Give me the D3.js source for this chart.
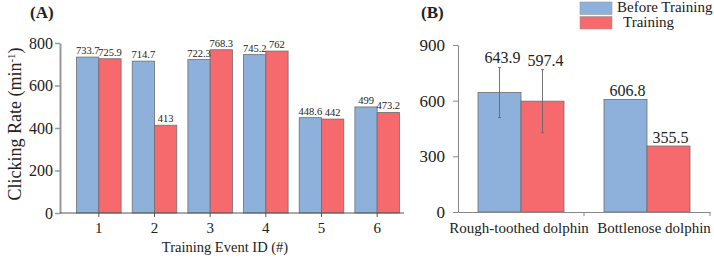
<!DOCTYPE html>
<html>
<head>
<meta charset="utf-8">
<script src="https://cdn.jsdelivr.net/npm/d3@7"></script>
<style>
  body { margin: 0; background: #fff; }
  svg, svg g, svg text { font-family: "Liberation Serif", "Times New Roman", serif !important; }
  svg text { fill: #222; }
</style>
</head>
<body>
<svg id="chart" width="714" height="259"></svg>
<script>
// panel A data
var events = ["1", "2", "3", "4", "5", "6"];
var beforeA = [733.7, 714.7, 722.3, 745.2, 448.6, 499];
var trainingA = [725.9, 413, 768.3, 762, 442, 473.2];
var yTicksA = [0, 200, 400, 600, 800];

// panel B data
var species = ["Rough-toothed dolphin", "Bottlenose dolphin"];
var beforeB = [643.9, 606.8];
var trainingB = [597.4, 355.5];
var beforeErrB = [135, 0];
var trainingErrB = [170, 0];
var yTicksB = [0, 300, 600, 900];

var seriesNames = ["Before Training", "Training"];
var colors = ["#8db1da", "#f66a6d"];

var svg = d3.select("#chart");

// ---------- panel A ----------
var yA = d3.scaleLinear().domain([0, 800]).range([213, 43]);
var xA = d3.scaleBand().domain(events).range([71, 405]).paddingInner(0.2).paddingOuter(0.1);
var subA = d3.scaleBand().domain([0, 1]).range([0, xA.bandwidth()]);

var gA = svg.append("g");

var rowsA = events.map(function(e, i) {
  return { id: e, vals: [beforeA[i], trainingA[i]] };
});

var grpA = gA.selectAll("g.grp").data(rowsA).enter().append("g")
  .attr("class", "grp")
  .attr("transform", function(d) { return "translate(" + xA(d.id) + ",0)"; });

grpA.selectAll("rect").data(function(d) { return d.vals; }).enter().append("rect")
  .attr("x", function(d, i) { return subA(i); })
  .attr("y", function(d) { return yA(d); })
  .attr("width", subA.bandwidth())
  .attr("height", function(d) { return yA(0) - yA(d); })
  .attr("fill", function(d, i) { return colors[i]; })
  .attr("stroke", "#6e6e6e")
  .attr("stroke-width", 0.8);

grpA.selectAll("text.val").data(function(d) { return d.vals; }).enter().append("text")
  .attr("class", "val")
  .attr("x", function(d, i) { return subA(i) + subA.bandwidth() / 2; })
  .attr("y", function(d) { return yA(d) - 3; })
  .attr("text-anchor", "middle")
  .style("font-size", "10.5px")
  .text(function(d) { return d; });

var yAxisA = gA.append("g").attr("transform", "translate(60,0)")
  .call(d3.axisLeft(yA).tickValues(yTicksA).tickSize(5).tickSizeOuter(0).tickPadding(2));
yAxisA.select(".domain").attr("stroke", "#999").attr("stroke-width", 2);
yAxisA.selectAll(".tick line").attr("stroke", "#999").attr("stroke-width", 1.5);
yAxisA.selectAll(".tick text").style("font-size", "16px").attr("fill", "#222");

var xAxisA = gA.append("g").attr("transform", "translate(0,213)")
  .call(d3.axisBottom(xA).tickSize(4).tickSizeOuter(0).tickPadding(5));
xAxisA.select(".domain").remove();
xAxisA.selectAll(".tick line").attr("stroke", "#555");
xAxisA.selectAll(".tick text").style("font-size", "15px").attr("fill", "#222");
gA.append("line")
  .attr("x1", 60).attr("x2", xA.range()[1] - 1)
  .attr("y1", yA(0)).attr("y2", yA(0))
  .attr("stroke", "#555").attr("stroke-width", 1);

gA.append("text")
  .attr("x", 225).attr("y", 252)
  .attr("text-anchor", "middle")
  .style("font-size", "14.5px")
  .text("Training Event ID (#)");

var yLabA = gA.append("text")
  .attr("transform", "translate(21,124) rotate(-90)")
  .attr("text-anchor", "middle")
  .style("font-size", "18px");
yLabA.append("tspan").text("Clicking Rate (min");
yLabA.append("tspan").attr("dy", -6).style("font-size", "11px").text("-1");
yLabA.append("tspan").attr("dy", 6).text(")");

gA.append("text")
  .attr("x", 30).attr("y", 18)
  .style("font-size", "17px").style("font-weight", "bold")
  .text("(A)");

// ---------- panel B ----------
var yB = d3.scaleLinear().domain([0, 900]).range([212, 45]);
var xB = d3.scaleBand().domain(species).range([458, 710]);
var subB = d3.scaleBand().domain([0, 1]).range([20, xB.bandwidth() - 20]);

var gB = svg.append("g");

var rowsB = species.map(function(s, i) {
  return { id: s, vals: [beforeB[i], trainingB[i]], errs: [beforeErrB[i], trainingErrB[i]] };
});

var grpB = gB.selectAll("g.grp").data(rowsB).enter().append("g")
  .attr("class", "grp")
  .attr("transform", function(d) { return "translate(" + xB(d.id) + ",0)"; });

grpB.selectAll("rect").data(function(d) { return d.vals; }).enter().append("rect")
  .attr("x", function(d, i) { return subB(i); })
  .attr("y", function(d) { return yB(d); })
  .attr("width", subB.bandwidth())
  .attr("height", function(d) { return yB(0) - yB(d); })
  .attr("fill", function(d, i) { return colors[i]; })
  .attr("stroke", "#6e6e6e")
  .attr("stroke-width", 0.8);

// error bars
grpB.each(function(d) {
  var g = d3.select(this);
  d.vals.forEach(function(v, i) {
    if (!d.errs[i]) return;
    var cx = subB(i) + subB.bandwidth() / 2;
    g.append("line")
      .attr("x1", cx).attr("x2", cx)
      .attr("y1", yB(v + d.errs[i])).attr("y2", yB(v - d.errs[i]))
      .attr("stroke", "#666").attr("stroke-width", 0.9);
    [v + d.errs[i], v - d.errs[i]].forEach(function(e) {
      g.append("line")
        .attr("x1", cx - 1.5).attr("x2", cx + 1.5)
        .attr("y1", yB(e)).attr("y2", yB(e))
        .attr("stroke", "#666").attr("stroke-width", 0.9);
    });
  });
});

grpB.selectAll("text.val").data(function(d) {
  return d.vals.map(function(v, i) { return { v: v, e: d.errs[i] }; });
}).enter().append("text")
  .attr("class", "val")
  .attr("x", function(d, i) { return subB(i) + subB.bandwidth() / 2 + (d.e ? 3 : 2); })
  .attr("y", function(d) { return yB(d.v + d.e) - (d.e ? 4 : 3); })
  .attr("text-anchor", "middle")
  .style("font-size", "16px")
  .text(function(d) { return d.v; });

var yAxisB = gB.append("g").attr("transform", "translate(458,0)")
  .call(d3.axisLeft(yB).tickValues(yTicksB).tickSize(5).tickSizeOuter(0).tickPadding(8));
yAxisB.select(".domain").attr("stroke", "#888").attr("stroke-width", 1);
yAxisB.selectAll(".tick line").attr("stroke", "#888");
yAxisB.selectAll(".tick text").style("font-size", "17px").attr("fill", "#222");

var xAxisB = gB.append("g").attr("transform", "translate(0,212)")
  .call(d3.axisBottom(xB).tickSize(0).tickSizeOuter(0).tickPadding(10));
xAxisB.select(".domain").attr("stroke", "#888");
xAxisB.selectAll(".tick text").style("font-size", "15px").attr("fill", "#222")
  .attr("dx", function(d, i) { return i ? 7 : -2; });
gB.selectAll("line.sep").data(species.slice(1).map(function(s) { return xB(s); }).concat([xB.range()[1]]))
  .enter().append("line")
  .attr("class", "sep")
  .attr("x1", function(d) { return d; }).attr("x2", function(d) { return d; })
  .attr("y1", yB(0)).attr("y2", yB(0) + 4)
  .attr("stroke", "#888");

gB.append("text")
  .attr("x", 421).attr("y", 18)
  .style("font-size", "17px").style("font-weight", "bold")
  .text("(B)");

// legend
var leg = gB.selectAll("g.leg").data(seriesNames).enter().append("g")
  .attr("class", "leg")
  .attr("transform", function(d, i) { return "translate(580," + (2 + i * 14.5) + ")"; });
leg.append("rect")
  .attr("width", 32).attr("height", 12.5)
  .attr("fill", function(d, i) { return colors[i]; })
  .attr("stroke", "#999").attr("stroke-width", 0.6);
leg.append("text")
  .attr("x", function(d, i) { return i ? 43 : 37; })
  .attr("y", 10)
  .style("font-size", "15px")
  .text(function(d) { return d; });
</script>
</body>
</html>
